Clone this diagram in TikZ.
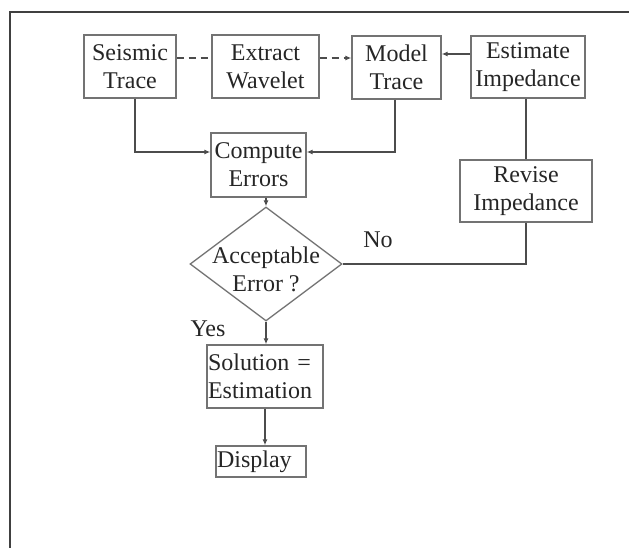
\documentclass[tikz,border=0pt]{standalone}
\usepackage{fontspec}
\setmainfont{Liberation Serif}
\usetikzlibrary{shapes.geometric,arrows.meta,calc}
\begin{document}
\begin{tikzpicture}[x=1pt,y=-1pt,
  font=\fontsize{24}{28}\selectfont, text=black!85,
  box/.style={draw=black!55, line width=1.3pt, inner sep=0pt, align=center},
  conn/.style={draw=black!70, line width=1.3pt},
  arr/.style={conn, -{Latex[length=6pt,width=5pt]}},
  dsh/.style={dash pattern=on 7pt off 5pt}]
\useasboundingbox (0,0) rectangle (629,548);
\fill[white] (0,0) rectangle (629,548);
\draw[black!75, line width=1.5pt] (629,12) -- (10,12) -- (10,548);

\node[box, minimum width=92pt, minimum height=63pt] (seis) at (130,66.5) {Seismic\\Trace};
\node[box, minimum width=107pt, minimum height=63pt] (extr) at (265.5,66.5) {Extract\\Wavelet};
\node[box, minimum width=89pt, minimum height=63pt] (model) at (396.5,67.5) {Model\\Trace};
\node[box, minimum width=114pt, minimum height=62pt] (est) at (528,67) {Estimate\\Impedance};
\node[box, minimum width=95pt, minimum height=64pt] (comp) at (258.5,165) {Compute\\Errors};
\node[box, minimum width=132pt, minimum height=62pt] (rev) at (526,191) {Revise\\Impedance};
\node[draw=black!55, line width=1.3pt, diamond, minimum width=152pt, minimum height=114pt, inner sep=0pt,
  label={[align=center, yshift=-5pt]center:Acceptable\\Error ?}] (dia) at (266,264) {};
\node[box, minimum width=116pt, minimum height=63pt, text width=114pt, inner xsep=1pt, align=left] (sol) at (265,376.5) {Solution =\\Estimation};
\node[box, minimum width=90pt, minimum height=31pt, text width=88pt, inner xsep=1pt, align=left] (disp) at (261,461.5) {Display};

\node (no) at (378,240) {No};
\node (yes) at (208,329) {Yes};

\draw[conn, dsh] ([yshift=8.5pt]seis.east) -- ([yshift=8.5pt]extr.west);
\draw[arr, dsh] ([yshift=8.5pt]extr.east) -- ([yshift=9.5pt]model.west);
\draw[arr] ([yshift=13pt]est.west) -- ([yshift=13.5pt]model.east);
\draw[arr] ([xshift=5pt]seis.south) |- ([yshift=13pt]comp.west);
\draw[arr] ([xshift=-1.5pt]model.south) |- ([yshift=13pt]comp.east);
\draw[conn] (rev.north |- est.south) -- (rev.north);
\draw[conn] (rev.south) |- (dia.east);
\draw[arr] (dia.north |- comp.south) -- (dia.north);
\draw[arr] (dia.south) -- (sol.north -| dia.south);
\draw[arr] (sol.south) -- (disp.north -| sol.south);
\end{tikzpicture}
\end{document}
